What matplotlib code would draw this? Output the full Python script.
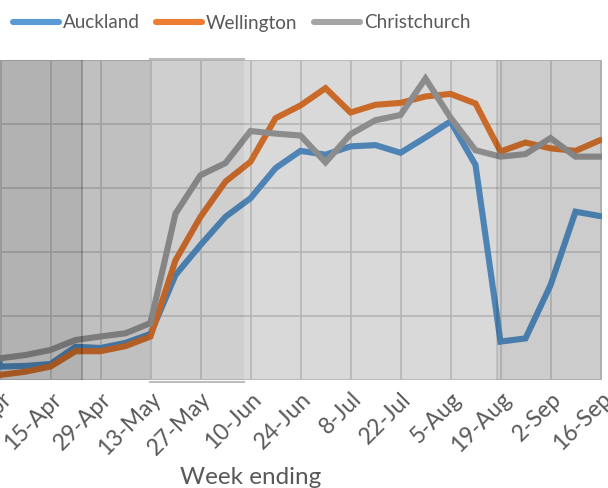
import matplotlib
matplotlib.use('Agg')
import matplotlib.pyplot as plt
import matplotlib.transforms as mtransforms
from matplotlib.lines import Line2D

weeks = ['25-Mar', '1-Apr', '8-Apr', '15-Apr', '22-Apr', '29-Apr', '6-May', '13-May',
         '20-May', '27-May', '3-Jun', '10-Jun', '17-Jun', '24-Jun', '1-Jul', '8-Jul',
         '15-Jul', '22-Jul', '29-Jul', '5-Aug', '12-Aug', '19-Aug', '26-Aug', '2-Sep',
         '9-Sep', '16-Sep']
auckland = [2.0, 0.21, 0.22, 0.25, 0.52, 0.50, 0.58, 0.72, 1.64, 2.11, 2.55, 2.84, 3.31,
            3.58, 3.52, 3.65, 3.67, 3.55, 3.79, 4.04, 3.36, 0.60, 0.65, 1.48, 2.63, 2.56]
wellington = [0.1, 0.08, 0.13, 0.21, 0.45, 0.45, 0.53, 0.68, 1.87, 2.55, 3.10, 3.41, 4.09,
              4.29, 4.56, 4.18, 4.30, 4.33, 4.43, 4.47, 4.32, 3.57, 3.71, 3.62, 3.58, 3.75]
christchurch = [0.3, 0.34, 0.39, 0.47, 0.625, 0.68, 0.73, 0.89, 2.60, 3.20, 3.39, 3.89, 3.85,
                3.82, 3.40, 3.84, 4.06, 4.14, 4.71, 4.10, 3.59, 3.49, 3.53, 3.78, 3.49, 3.49]
series_names = ['Auckland', 'Wellington', 'Christchurch']
series_colors = ['#5B9BD5', '#ED7D31', '#A5A5A5']
tick_labels = weeks[1::2]

plt.rcParams['font.family'] = ['Lato', 'DejaVu Sans']

W, H = 608, 488
fig = plt.figure(figsize=(W / 100, H / 100), dpi=100)
ax = fig.add_axes([-49.5 / W, (H - 380) / H, 651.5 / W, 320 / H])
ax.set_facecolor('white')
ax.set_xlim(-2, 24.06)
ax.set_ylim(0, 5)

x = list(range(-1, 25))
for vals, name, col in zip([auckland, wellington, christchurch], series_names, series_colors):
    ax.plot(x, vals, color=col, lw=4.4, solid_capstyle='round', solid_joinstyle='miter',
            zorder=2, label=name)

ax.set_xticks(list(range(0, 25, 2)))
ax.set_xticklabels(tick_labels, rotation=45, ha='right', rotation_mode='anchor',
                   fontsize=16.5, color='#595959')
offset = mtransforms.ScaledTranslation(6 / 100, -3 / 100, fig.dpi_scale_trans)
for lab in ax.get_xticklabels():
    lab.set_transform(lab.get_transform() + offset)
ax.set_yticks(range(0, 6))
ax.set_yticklabels([])
ax.tick_params(axis='both', length=0, pad=6)
ax.grid(True, color='#d9d9d9', lw=1.3)
ax.set_axisbelow(True)
for s in ax.spines.values():
    s.set_visible(False)

def px2k(p):
    return (p - 0.5) / 25.0

# shaded overlays (on top of lines)
ax.axvspan(-2, px2k(82), color='black', alpha=0.30, lw=0, zorder=3)
ax.axvspan(px2k(82), px2k(150), color='black', alpha=0.247, lw=0, zorder=3)
ax.axvspan(px2k(150), px2k(244), color='black', alpha=0.19, lw=0, zorder=3)
ax.axvspan(px2k(244), px2k(497), color='black', alpha=0.15, lw=0, zorder=3)
ax.axvspan(px2k(497), 24.06, color='black', alpha=0.20, lw=0, zorder=3)
ax.axvline(px2k(82), color='black', alpha=0.25, lw=1.2, zorder=4)
ax.axvline(px2k(497), color='black', alpha=0.12, lw=1.2, zorder=4)
ax.plot([px2k(150), px2k(244)], [5.02, 5.02], color='#bdbdbd', lw=1.5, clip_on=False, zorder=4)
ax.plot([px2k(150), px2k(244)], [-0.03, -0.03], color='#bdbdbd', lw=1.5, clip_on=False, zorder=4)

handles = [Line2D([0], [0], color=c, lw=4.4, solid_capstyle='round') for c in series_colors]
fig.legend(handles, series_names, ncol=3, loc='center left',
           bbox_to_anchor=(13 / W, 1 - 23 / H), frameon=False, fontsize=13.6,
           handlelength=2.45, handletextpad=0.2, columnspacing=0.85,
           borderpad=0, borderaxespad=0, labelcolor='#595959')

fig.text(251 / W, 1 - 478 / H, 'Week ending', ha='center', va='center',
         fontsize=17.5, color='#595959')

fig.savefig('out.png', dpi=100)
